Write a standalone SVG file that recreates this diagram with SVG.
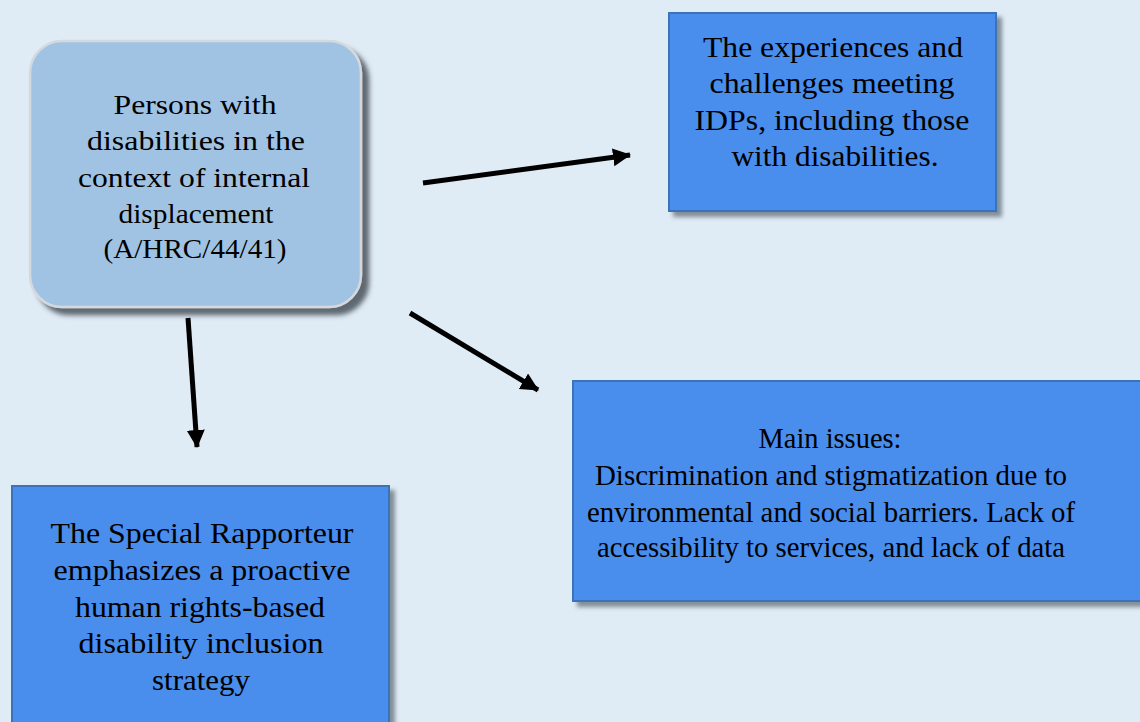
<svg xmlns="http://www.w3.org/2000/svg" width="1140" height="722" viewBox="0 0 1140 722">
  <defs>
    <filter id="shadow" x="-10%" y="-10%" width="130%" height="130%">
      <feDropShadow dx="5" dy="5" stdDeviation="2" flood-color="#5a6670" flood-opacity="0.7"/>
    </filter>
    <filter id="shadowSoft" x="-10%" y="-10%" width="130%" height="130%">
      <feDropShadow dx="7" dy="7" stdDeviation="2.5" flood-color="#3e4650" flood-opacity="0.8"/>
    </filter>
    <marker id="arrow" markerUnits="userSpaceOnUse" markerWidth="22" markerHeight="22" refX="17" refY="9" orient="auto">
      <path d="M0,0 L18,9 L0,18 Z" fill="#000"/>
    </marker>
    <style>
      .box { fill: #4a8ded; stroke: #3a72b8; stroke-width: 2; }
      .root { fill: #a0c3e3; stroke: #d5d9de; stroke-width: 2.5; }
      .label { font-family: "Liberation Serif", "Times New Roman", serif; font-size: 30px; fill: #000; text-anchor: middle; }
      .small { font-size: 27px; }
      .conn { stroke: #000; stroke-width: 5; fill: none; marker-end: url(#arrow); }
    </style>
  </defs>

  <rect width="1140" height="722" fill="#dfebf5"/>

  <!-- central topic -->
  <g id="node-root">
    <rect class="root" x="30" y="41" width="331" height="266" rx="32" ry="32" filter="url(#shadowSoft)"/>
    <text class="label small" x="195" y="114" textLength="163" lengthAdjust="spacingAndGlyphs">Persons with</text>
    <text class="label small" x="196" y="150" textLength="218" lengthAdjust="spacingAndGlyphs">disabilities in the</text>
    <text class="label small" x="194" y="187" textLength="232" lengthAdjust="spacingAndGlyphs">context of internal</text>
    <text class="label small" x="196" y="223" textLength="155" lengthAdjust="spacingAndGlyphs">displacement</text>
    <text class="label small" x="195" y="258" textLength="183" lengthAdjust="spacingAndGlyphs">(A/HRC/44/41)</text>
  </g>

  <!-- experiences -->
  <g id="node-experiences">
    <rect class="box" x="669" y="13" width="327" height="198" filter="url(#shadow)"/>
    <text class="label" x="833" y="57" textLength="260" lengthAdjust="spacingAndGlyphs">The experiences and</text>
    <text class="label" x="832" y="93" textLength="245" lengthAdjust="spacingAndGlyphs">challenges meeting</text>
    <text class="label" x="832" y="130" textLength="275" lengthAdjust="spacingAndGlyphs">IDPs, including those</text>
    <text class="label" x="835" y="166" textLength="207" lengthAdjust="spacingAndGlyphs">with disabilities.</text>
  </g>

  <!-- main issues -->
  <g id="node-issues">
    <rect class="box" x="573" y="381" width="590" height="220" filter="url(#shadow)"/>
    <text class="label" x="830" y="448" textLength="143" lengthAdjust="spacingAndGlyphs">Main issues:</text>
    <text class="label" x="831" y="485" textLength="472" lengthAdjust="spacingAndGlyphs">Discrimination and stigmatization due to</text>
    <text class="label" x="831" y="522" textLength="488" lengthAdjust="spacingAndGlyphs">environmental and social barriers. Lack of</text>
    <text class="label" x="831" y="557" textLength="468" lengthAdjust="spacingAndGlyphs">accessibility to services, and lack of data</text>
  </g>

  <!-- strategy -->
  <g id="node-strategy">
    <rect class="box" x="12" y="486" width="377" height="260" filter="url(#shadow)"/>
    <text class="label" x="202" y="543" textLength="303" lengthAdjust="spacingAndGlyphs">The Special Rapporteur</text>
    <text class="label" x="202" y="580" textLength="297" lengthAdjust="spacingAndGlyphs">emphasizes a proactive</text>
    <text class="label" x="200" y="617" textLength="250" lengthAdjust="spacingAndGlyphs">human rights-based</text>
    <text class="label" x="201" y="653" textLength="245" lengthAdjust="spacingAndGlyphs">disability inclusion</text>
    <text class="label" x="201" y="690" textLength="98" lengthAdjust="spacingAndGlyphs">strategy</text>
  </g>

  <!-- connectors -->
  <g id="connectors">
    <line class="conn" x1="423" y1="183" x2="630" y2="155"/>
    <line class="conn" x1="410" y1="313" x2="538" y2="390"/>
    <line class="conn" x1="188" y1="318" x2="197" y2="447"/>
  </g>
</svg>
